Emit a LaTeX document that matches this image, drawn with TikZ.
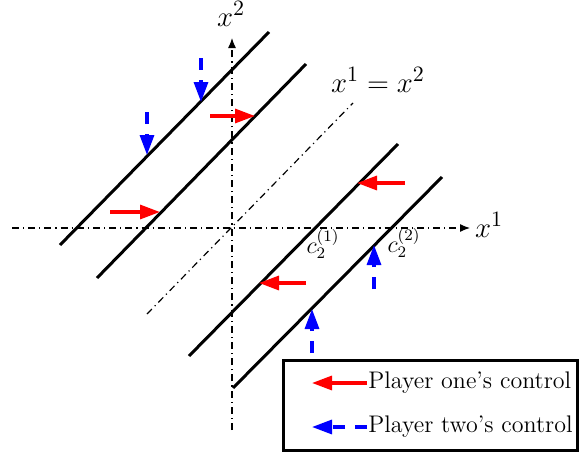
\documentclass[tikz,border=0pt]{standalone}
\usetikzlibrary{arrows.meta}
\begin{document}
\begin{tikzpicture}[x=0.5pt,y=-0.5pt,
  axisline/.style={line width=0.6pt,dash pattern=on 3.5pt off 2pt on 0.6pt off 2pt},
  wall/.style={line width=1.5pt,black},
  ctrlone/.style={line width=1.6pt,red,-{Triangle[length=10pt,width=7pt]}},
  ctrltwo/.style={line width=1.6pt,blue,dash pattern=on 6pt off 5pt,-{Triangle[length=10pt,width=7pt]}},
  lbl/.style={inner sep=0pt,font=\fontsize{15.5}{18}\selectfont},
  clbl/.style={inner sep=0pt,font=\large},
  legtext/.style={inner sep=0pt,anchor=west,font=\large}]
\useasboundingbox (0,0) rectangle (579,455);
% axes
\coordinate (xl) at (12,228);
\coordinate (xr) at (470,228);
\coordinate (yb) at (232,430);
\coordinate (yt) at (232,38);
\draw[axisline,-{Latex[length=5pt,width=4pt]}] (xl) -- (xr);
\draw[axisline,-{Latex[length=5pt,width=4pt]}] (yb) -- (yt);
% diagonal x1=x2
\coordinate (d1) at (147,314);
\coordinate (d2) at (353,103);
\draw[axisline] (d1) -- (d2);
% walls
\coordinate (a1) at (60,245);  \coordinate (a2) at (269,32);
\coordinate (b1) at (97,278);  \coordinate (b2) at (306,64);
\coordinate (c1) at (189,356); \coordinate (c2) at (398,144);
\coordinate (e1) at (233,388); \coordinate (e2) at (442,177);
\draw[wall] (a1) -- (a2);
\draw[wall] (b1) -- (b2);
\draw[wall] (c1) -- (c2);
\draw[wall] (e1) -- (e2);
% player one controls
\coordinate (r1s) at (110,212); \coordinate (r1e) at (160,212);
\coordinate (r2s) at (210,116); \coordinate (r2e) at (255,116);
\coordinate (r3s) at (405,183); \coordinate (r3e) at (357,183);
\coordinate (r4s) at (306,283); \coordinate (r4e) at (259,283);
\draw[ctrlone] (r1s) -- (r1e);
\draw[ctrlone] (r2s) -- (r2e);
\draw[ctrlone] (r3s) -- (r3e);
\draw[ctrlone] (r4s) -- (r4e);
% player two controls
\coordinate (u1s) at (201,58);  \coordinate (u1e) at (201,102);
\coordinate (u2s) at (147,112); \coordinate (u2e) at (147,155);
\coordinate (u3s) at (374,289); \coordinate (u3e) at (374,245);
\coordinate (u4s) at (312,353); \coordinate (u4e) at (312,309);
\draw[ctrltwo] (u1s) -- (u1e);
\draw[ctrltwo] (u2s) -- (u2e);
\draw[ctrltwo] (u3s) -- (u3e);
\draw[ctrltwo] (u4s) -- (u4e);
% labels
\node[lbl] (lx2) at (231,14) {$x^2$};
\node[lbl] (lx1) at (489,225) {$x^1$};
\node[lbl] (ldiag) at (378,80) {$x^1=x^2$};
\node[clbl] (lc1) at (323,244) {$c_2^{(1)}$};
\node[clbl] (lc2) at (404,243) {$c_2^{(2)}$};
% legend
\node[draw,line width=1.5pt,minimum width=147pt,minimum height=45pt,inner sep=0pt] (leg) at (430,405) {};
\coordinate (l1s) at (367,383); \coordinate (l1e) at (312,383);
\coordinate (l2s) at (367,427); \coordinate (l2e) at (312,427);
\draw[ctrlone] (l1s) -- (l1e);
\draw[ctrltwo] (l2s) -- (l2e);
\node[legtext] (t1) at (368,383) {Player one's control};
\node[legtext] (t2) at (368,427) {Player two's control};
\end{tikzpicture}
\end{document}
